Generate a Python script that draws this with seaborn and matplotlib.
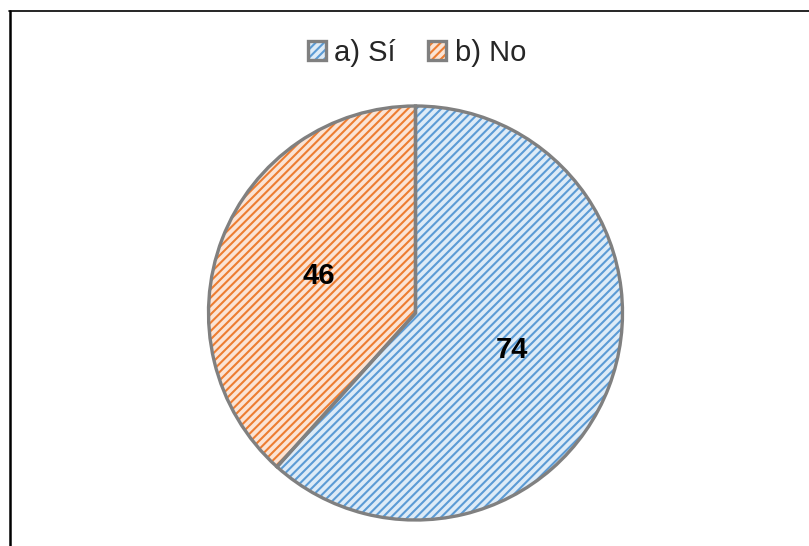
import matplotlib
matplotlib.use("Agg")
import matplotlib.pyplot as plt
from matplotlib.patches import Patch
from matplotlib.lines import Line2D
from matplotlib.legend_handler import HandlerTuple
import seaborn as sns

# Survey answers
categories = ["a) Sí", "b) No"]
counts = [74, 46]

hatch_colors = ["#5B9BD5", "#ED7D31"]
fill_colors = ["#DDEBF7", "#FBE4D5"]
edge_gray = "#808080"

sns.set_theme(style="white")
plt.rcParams["font.family"] = ["Liberation Sans", "DejaVu Sans"]
plt.rcParams["hatch.linewidth"] = 1.5

W, H = 809, 546
fig = plt.figure(figsize=(W / 100, H / 100), dpi=100)
fig.patch.set_facecolor("white")

# Pie axes placed in pixel terms: centre (415.5, 313), radius 207
cx, cy, r = 415.5, 313, 207
ax = fig.add_axes([(cx - r) / W, (H - cy - r) / H, 2 * r / W, 2 * r / H])

# Hatched fill layer
wedges, _ = ax.pie(counts, startangle=90, counterclock=False, radius=1,
                   colors=fill_colors,
                   wedgeprops=dict(linewidth=0))
for w, hc in zip(wedges, hatch_colors):
    w.set_edgecolor(hc)
    w.set_hatch("////")
    w.set_linewidth(0)

# Outline layer with value labels
wedges2, _, autotexts = ax.pie(
    counts, startangle=90, counterclock=False, radius=1,
    colors=["none", "none"],
    autopct=lambda p: f"{round(p * sum(counts) / 100):d}",
    pctdistance=0.5,
    wedgeprops=dict(edgecolor=edge_gray, linewidth=2.4, fill=False),
    textprops=dict(fontsize=21, fontweight="bold", color="black"))
ax.set_xlim(-1, 1)
ax.set_ylim(-1, 1)
ax.set_aspect("equal")
ax.axis("off")
for w in list(wedges) + list(wedges2):
    w.set_clip_on(False)

# Legend
handles = [
    (Patch(facecolor=fc, edgecolor=hc, hatch="////", linewidth=0),
     Patch(facecolor="none", edgecolor=edge_gray, linewidth=2.4))
    for fc, hc in zip(fill_colors, hatch_colors)
]
fig.legend(handles, categories, loc="center", bbox_to_anchor=(417 / W, 1 - 53 / H),
           ncol=2, frameon=False, fontsize=21, handlelength=0.62, handleheight=0.62,
           handletextpad=0.3, columnspacing=1.1,
           handler_map={tuple: HandlerTuple(ndivide=1, pad=0)})

# Frame lines along the top and left edges
fig.add_artist(Line2D([9 / W, 1.0], [1 - 11 / H, 1 - 11 / H], color="black",
                      linewidth=1.2, transform=fig.transFigure))
fig.add_artist(Line2D([10 / W, 10 / W], [0.0, 1 - 10.5 / H], color="black",
                      linewidth=1.8, transform=fig.transFigure))

fig.savefig("out.png", dpi=100, facecolor="white")
